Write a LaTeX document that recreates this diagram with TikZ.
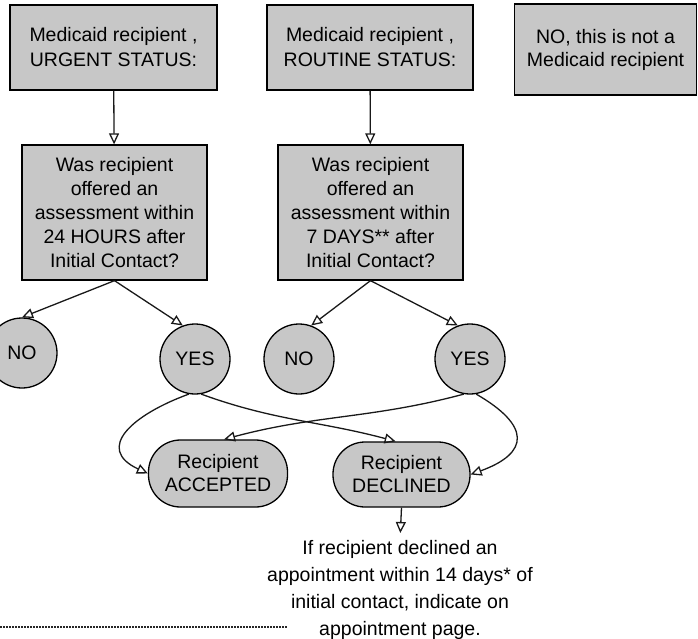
\documentclass[tikz,border=0pt]{standalone}
\usepackage{fontspec}
\setmainfont{Liberation Sans}
\usetikzlibrary{arrows.meta,calc}
\begin{document}
\begin{tikzpicture}[x=1pt,y=-1pt,
  txt/.style={font=\fontsize{19.5}{24}\selectfont},
  box/.style={txt, draw=black, line width=1.3pt, fill=black!22, align=center, inner sep=0pt},
  circ/.style={txt, circle, draw=black, line width=1.3pt, fill=black!22, minimum size=70pt, inner sep=0pt},
  pill/.style={txt, draw=black, line width=1.3pt, fill=black!22, rounded corners=32pt, align=center, inner sep=0pt},
  conn/.style={line width=1.3pt, draw=black!90, -{Triangle[open, length=11pt, width=10pt]}},
]
\useasboundingbox (0,0) rectangle (698,639);
\node[box, minimum width=207pt, minimum height=85pt, font=\fontsize{19.5}{25}\selectfont] (A) at (113.5,47.5) {Medicaid recipient ,\\URGENT STATUS:};
\node[box, minimum width=206pt, minimum height=85pt, font=\fontsize{19.5}{25}\selectfont] (B) at (370,47.5) {Medicaid recipient ,\\ROUTINE STATUS:};
\node[box, minimum width=182pt, minimum height=91pt, font=\fontsize{19.5}{23}\selectfont] (C) at (605.5,49.5) {NO, this is not a\\Medicaid recipient};
\node[box, minimum width=185pt, minimum height=135pt] (D) at (114.5,212.5) {Was recipient\\offered an\\assessment within\\24 HOURS after\\Initial Contact?};
\node[box, minimum width=185pt, minimum height=135pt] (E) at (370.5,212.5) {Was recipient\\offered an\\assessment within\\7 DAYS** after\\Initial Contact?};
\node[circ] (N1) at (22,353) {NO};
\node[circ] (Y1) at (195,359) {YES};
\node[circ] (N2) at (299,359) {NO};
\node[circ] (Y2) at (470,359) {YES};
\node[pill, minimum width=139pt, minimum height=67pt, font=\fontsize{19.5}{23}\selectfont] (ACC) at (218,473.5) {Recipient\\ACCEPTED};
\node[pill, minimum width=137pt, minimum height=65pt, font=\fontsize{19.5}{23}\selectfont] (DEC) at (401.5,474.5) {Recipient\\DECLINED};
\node[font=\fontsize{19.5}{27}\selectfont, align=center, anchor=north, inner sep=0pt] (T) at (400,540) {If recipient declined an\\appointment within 14 days* of\\initial contact, indicate on\\appointment page.};
\coordinate (L0) at (0,627);
\coordinate (L1) at (287,627);

\draw[conn] (A) -- (D);
\draw[conn] (B) -- (E);
\draw[conn] (D.south) -- (N1.north);
\draw[conn] (D.south) -- (Y1.110);
\draw[conn] (E.south) -- (N2.70);
\draw[conn] (E.south) -- (Y2.110);
\draw[conn] (Y1.-100) to[out=200, in=155, looseness=1.7] (ACC.west);
\draw[conn] (Y1.-80) to[out=-20, in=165] (DEC.100);
\draw[conn] (Y2.-100) to[out=195, in=15] (ACC.80);
\draw[conn] (Y2.-80) to[out=-30, in=20, looseness=2] (DEC.east);
\draw[conn, shorten >=7pt] (DEC.south) -- (T.north);
\draw[line width=1.5pt, black!85, dash pattern=on 2pt off 1pt] (L0) -- (L1);
\end{tikzpicture}
\end{document}
